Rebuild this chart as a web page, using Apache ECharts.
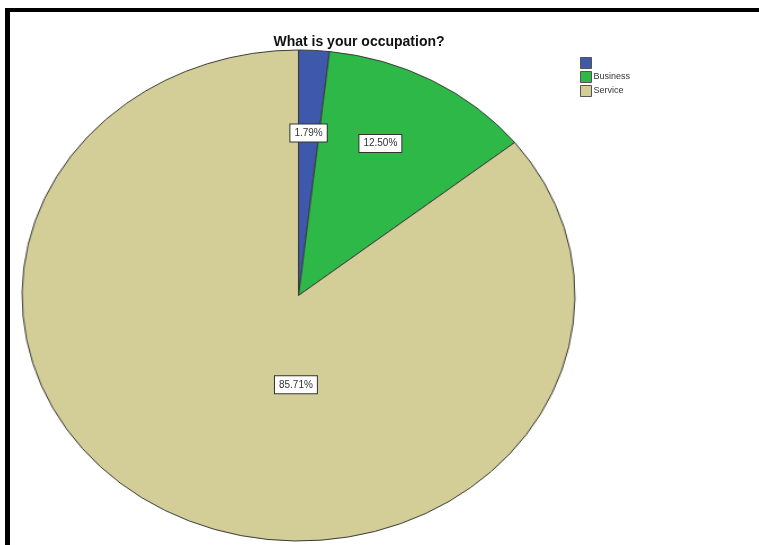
<!DOCTYPE html>
<html>
<head>
<meta charset="utf-8">
<script src="https://cdn.jsdelivr.net/npm/echarts@6/dist/echarts.min.js"></script>
<style>
  html, body { margin: 0; padding: 0; background: #fff; }
  #wrap { position: relative; width: 759px; height: 545px; overflow: hidden; }
  #pie, #top { position: absolute; left: 0; top: 0; width: 759px; height: 545px; }
  /* SPSS draws the pie as an ellipse, so stretch the sector layer sideways */
  #pie { transform: scaleX(1.126); transform-origin: 298.5px 0; }
</style>
</head>
<body>
<div id="wrap">
  <div id="pie"></div>
  <div id="top"></div>
</div>
<script>
const categories = [' ', 'Business', 'Service'];
const percents = [1.79, 12.50, 85.71];
const colors = ['#3e58ac', '#2eb848', '#d3ce97'];
// nudge SPSS-style label boxes away from the default inside spot
const labelOffsets = [[3, -37], [21, -42], [52, -24]];

const center = [298.5, 295.5];
const radius = 245.5;

const pieChart = echarts.init(document.getElementById('pie'));
pieChart.setOption({
  animation: false,
  series: [{
    type: 'pie',
    center: center,
    radius: radius,
    startAngle: 90,
    silent: true,
    label: { show: false },
    labelLine: { show: false },
    itemStyle: { borderColor: '#3a3a3a', borderWidth: 1 },
    data: categories.map((c, i) => ({
      name: c,
      value: percents[i],
      itemStyle: { color: colors[i] }
    }))
  }]
});

const topChart = echarts.init(document.getElementById('top'));
topChart.setOption({
  animation: false,
  title: {
    text: 'What is your occupation?',
    left: 354,
    top: 30,
    textAlign: 'center',
    textStyle: { fontFamily: 'Liberation Sans, Arial', fontSize: 14, fontWeight: 'bold', color: '#111' }
  },
  legend: {
    orient: 'vertical',
    left: 575,
    top: 52,
    itemWidth: 11,
    itemHeight: 11,
    itemGap: 2,
    icon: 'rect',
    textStyle: { fontFamily: 'Liberation Sans, Arial', fontSize: 9, color: '#333', padding: [0, 0, 0, -3] },
    data: categories.map((c, i) => ({
      name: c,
      itemStyle: { color: colors[i], borderColor: '#555', borderWidth: 1 }
    }))
  },
  graphic: [
    { type: 'rect', shape: { x: 5, y: 8, width: 754, height: 4 }, style: { fill: '#000' } },
    { type: 'rect', shape: { x: 5, y: 8, width: 5, height: 537 }, style: { fill: '#000' } }
  ],
  series: [{
    type: 'pie',
    center: center,
    radius: radius,
    startAngle: 90,
    silent: true,
    labelLine: { show: false },
    itemStyle: { color: 'rgba(0,0,0,0)', borderWidth: 0 },
    label: {
      show: true,
      position: 'inside',
      formatter: p => p.value.toFixed(2) + '%',
      fontFamily: 'Liberation Sans, Arial',
      fontSize: 10,
      color: '#333',
      backgroundColor: '#fff',
      borderColor: '#333',
      borderWidth: 1,
      padding: [4, 4, 3, 4]
    },
    data: categories.map((c, i) => ({
      name: c,
      value: percents[i],
      label: { offset: labelOffsets[i] }
    }))
  }]
});
</script>
</body>
</html>
